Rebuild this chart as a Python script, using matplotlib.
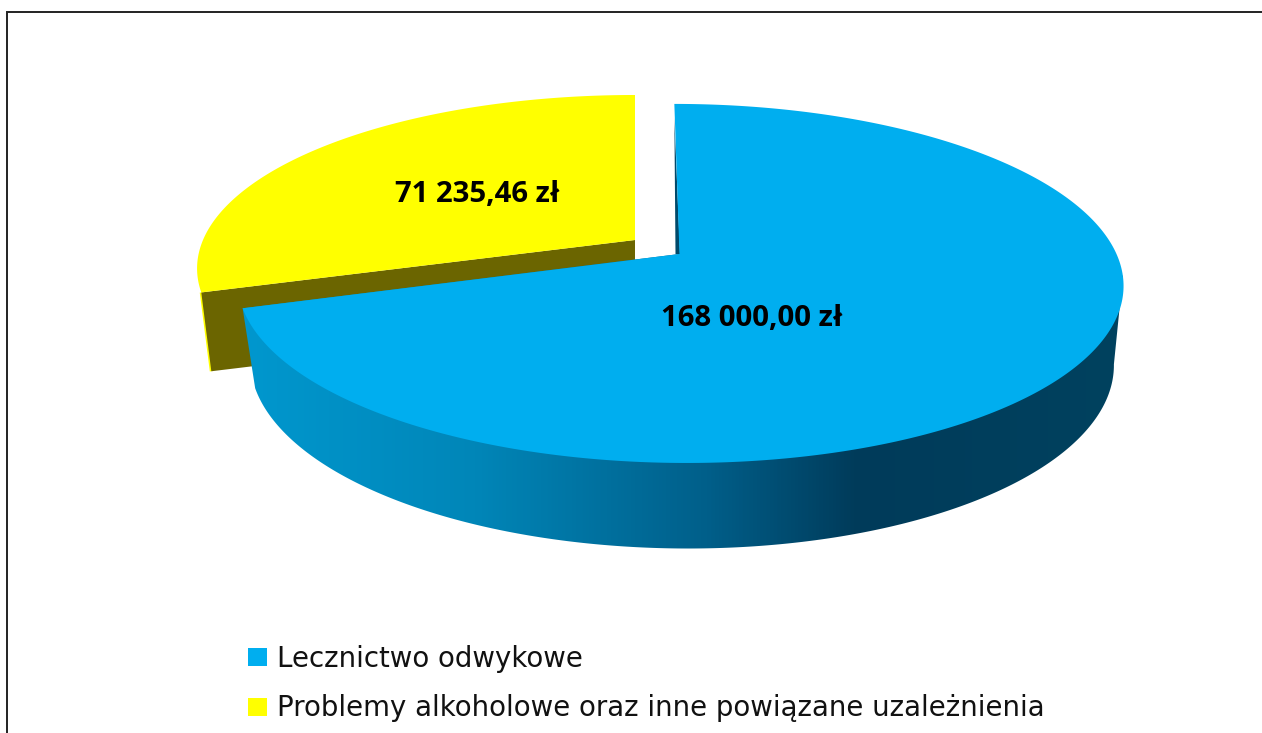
import numpy as np
import matplotlib
matplotlib.use("Agg")
import matplotlib.pyplot as plt
from matplotlib.patches import Polygon, Patch
from matplotlib.colors import LinearSegmentedColormap

categories = ["Lecznictwo odwykowe", "Problemy alkoholowe oraz inne powiązane uzależnienia"]
values = [168000.00, 71235.46]
colors = ["#00AEEF", "#FFFF00"]
olive = "#6B6500"
dark_cut = "#004A6B"

W, H = 1262, 733
fig = plt.figure(figsize=(W / 100, H / 100), dpi=100)
ax = fig.add_axes([0, 0, 1, 1])
ax.set_xlim(0, W)
ax.set_ylim(H, 0)
ax.axis("off")

K = 0.164
fractions = np.array(values) / sum(values)
split = 2 * np.pi * fractions[0]


def disk(theta, cx, cy, a, b, shear=0.0):
    """Perspective projection of a pie rim; theta runs clockwise from 12 o'clock."""
    u, v = np.sin(theta), np.cos(theta)
    w = 1 + K * v
    return np.column_stack([cx + (a * u + shear * v) / w, cy - b * v / w])


def fmt(v):
    s = f"{v:,.2f}".replace(",", " ").replace(".", ",")
    return s + " zł"


# Yellow slice (pulled out)
y_top = (635, 240, 432, 168.8)
y_bot = (635, 320, 422, 165)
th_y = np.linspace(split, 2 * np.pi, 200)
arc_y = disk(th_y, *y_top)
corner_top = disk(np.array([split]), *y_top)[0]
corner_bot = disk(np.array([split]), *y_bot)[0]
apex_y_top = np.array(y_top[:2], float)
apex_y_bot = np.array(y_bot[:2], float)
ax.plot([corner_top[0], corner_bot[0]], [corner_top[1], corner_bot[1]],
        color=colors[1], lw=2.2, zorder=1, solid_capstyle="butt")
ax.add_patch(Polygon([corner_top, corner_bot, apex_y_bot, apex_y_top],
                     closed=True, fc=olive, ec="none", zorder=2))
ax.add_patch(Polygon(np.vstack([apex_y_top, arc_y]), closed=True,
                     fc=colors[1], ec="none", zorder=3))

# Blue slice
b_top = (679.5, 254, 437, 174.7, -6)
b_bot = (681, 332, 426, 181, -6)
th_b = np.linspace(0, split, 400)
arc_b = disk(th_b, *b_top)
apex_b = np.array(b_top[:2], float)

# outer wall with a horizontal gradient
wall_th = np.linspace(split, np.radians(100), 300)
wall = np.vstack([disk(np.array([split]), *b_top), disk(wall_th, *b_bot),
                  disk(np.radians([97]), *b_top), apex_b])
cmap = LinearSegmentedColormap.from_list(
    "wall",
    [(0.0, "#0098CF"), (0.27, "#0086B8"), (0.53, "#005F8A"),
     (0.70, "#003B5A"), (1.0, "#00425F")])
grad = np.linspace(0, 1, 512).reshape(1, -1)
im = ax.imshow(grad, extent=(235, 1125, 560, 250), cmap=cmap, aspect="auto", zorder=4)
clip = Polygon(wall, closed=True, transform=ax.transData, fc="none", ec="none")
ax.add_patch(clip)
im.set_clip_path(clip)
ax.set_xlim(0, W)
ax.set_ylim(H, 0)

# inner cut of the blue slice and its top face
rim0 = disk(np.array([0.0]), *b_top)[0]
ax.add_patch(Polygon([rim0 + [0, 14], apex_b + [-4, 0], apex_b + [0.5, 0]], closed=True,
                     fc=dark_cut, ec="none", zorder=5))
ax.add_patch(Polygon(np.vstack([apex_b, arc_b]), closed=True,
                     fc=colors[0], ec="none", zorder=6))

# data labels
label_font = ["Open Sans", "DejaVu Sans"]
ax.text(752, 319, fmt(values[0]), ha="center", va="center", fontsize=21.2,
        fontweight="bold", family=label_font, color="black", zorder=8)
ax.text(477, 195, fmt(values[1]), ha="center", va="center", fontsize=21.2,
        fontweight="bold", family=label_font, color="black", zorder=8)

# legend
fs = 19.9
handles = [Patch(fc=c, ec="none") for c in colors]
ax.legend(handles, categories, loc="upper left", bbox_to_anchor=(247.5 / W, 1 - 645 / H),
          bbox_transform=fig.transFigure, frameon=False, prop={"family": "DejaVu Sans", "size": fs},
          handlelength=0.69, handleheight=0.62, handletextpad=0.36,
          labelspacing=0.77, borderpad=0, borderaxespad=0, labelcolor="#111111")

# frame
ax.plot([7, 7, W], [H, 11.5, 11.5], color="#222222", lw=1.4, zorder=9, solid_joinstyle="miter")

fig.savefig("out.png", dpi=100, facecolor="white")
